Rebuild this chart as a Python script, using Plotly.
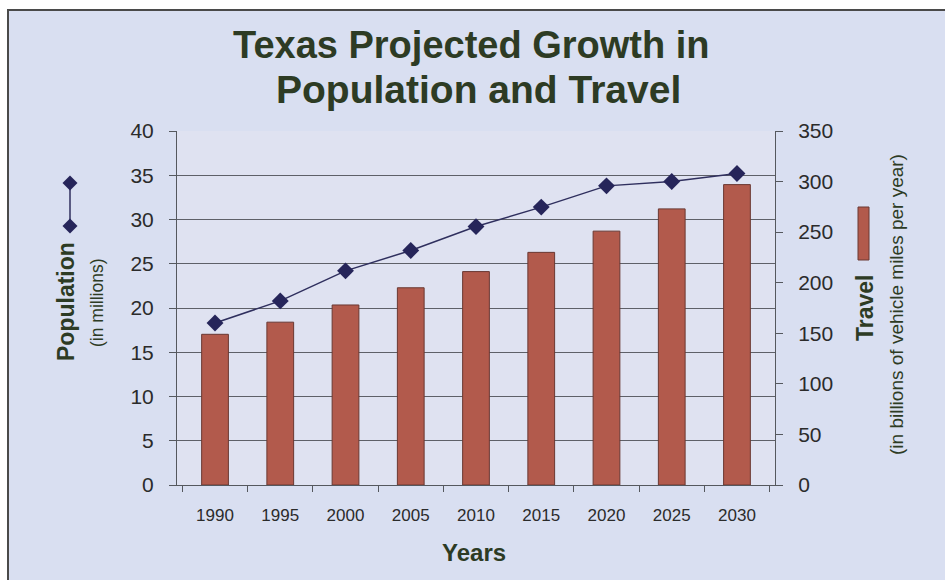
import plotly.graph_objects as go

years = ["1990", "1995", "2000", "2005", "2010", "2015", "2020", "2025", "2030"]
population = [18.3, 20.8, 24.2, 26.5, 29.2, 31.4, 33.8, 34.3, 35.2]   # millions (left axis)
travel = [149, 161, 178, 195, 211, 230, 251, 273, 297]               # billions VMT (right axis)
pop_ticks = [0, 5, 10, 15, 20, 25, 30, 35, 40]
travel_ticks = [0, 50, 100, 150, 200, 250, 300, 350]

W, H = 945, 580
L, R, T, B = 177, 170, 131, 95
PW, PH = W - L - R, H - T - B

def px(x):
    return (x - L) / PW

def py(y):
    return (H - B - y) / PH

BG = "#d9dff1"
PLOT_BG = "#dfe2f1"
TITLE_C = "#2d3b24"
TEXT_C = "#2b2b2b"
AX_C = "#55585e"
GRID_C = "#5e6068"
BAR_C = "#b25a4c"
BAR_EDGE = "#6a3832"
LINE_C = "#2f2f5e"
MARK_C = "#26255a"
FONT = "Liberation Sans, Arial, sans-serif"

fig = go.Figure()
fig.add_trace(go.Bar(
    x=years, y=travel, yaxis="y", name="Travel",
    marker=dict(color=BAR_C, line=dict(color=BAR_EDGE, width=1)),
))
fig.add_trace(go.Scatter(
    x=years, y=population, yaxis="y2", name="Population", mode="lines+markers",
    line=dict(color=LINE_C, width=1.5),
    marker=dict(symbol="diamond", size=13, color=MARK_C),
))

fig.update_layout(
    width=W, height=H,
    margin=dict(l=L, r=R, t=T, b=B, pad=0),
    paper_bgcolor=BG, plot_bgcolor=PLOT_BG,
    showlegend=False,
    bargap=0.59,
    font=dict(family=FONT, color=TEXT_C),
    xaxis=dict(
        type="category", showline=True, linecolor=AX_C, linewidth=1,
        ticks="outside", tickson="boundaries", ticklen=6, tickcolor=AX_C,
        tickfont=dict(size=17, color=TEXT_C), showgrid=False,
        ticklabelstandoff=15,
    ),
    yaxis=dict(
        side="right", range=[0, 350], tickvals=travel_ticks,
        showline=True, linecolor=AX_C, linewidth=1,
        ticks="outside", ticklen=7, tickcolor=AX_C,
        tickfont=dict(size=21, color=TEXT_C), showgrid=False, zeroline=False,
        ticklabelstandoff=11,
    ),
    yaxis2=dict(
        overlaying="y", side="left", range=[0, 40], tickvals=pop_ticks,
        showline=True, linecolor=AX_C, linewidth=1,
        ticks="outside", ticklen=7, tickcolor=AX_C,
        tickfont=dict(size=21, color=TEXT_C),
        showgrid=True, gridcolor=GRID_C, gridwidth=1, zeroline=False,
        ticklabelstandoff=11,
    ),
)

shapes = []
# white outer margin and frame
shapes.append(dict(type="rect", xref="paper", yref="paper", x0=px(-5), x1=px(8), y0=py(600), y1=py(-5),
                   fillcolor="white", line=dict(width=0), layer="below"))
shapes.append(dict(type="rect", xref="paper", yref="paper", x0=px(-5), x1=px(960), y0=py(10), y1=py(-5),
                   fillcolor="white", line=dict(width=0), layer="below"))
shapes.append(dict(type="rect", xref="paper", yref="paper", x0=px(8), x1=px(960), y0=py(600), y1=py(10),
                   fillcolor="rgba(0,0,0,0)", line=dict(color="#4a4a4a", width=2), layer="below"))
# legend key: population line with diamonds
shapes.append(dict(type="line", xref="paper", yref="paper", x0=px(70), x1=px(70), y0=py(183), y1=py(226),
                   line=dict(color=LINE_C, width=1.5)))
for cy in (183, 226):
    d = 7.5
    shapes.append(dict(type="path", xref="paper", yref="paper",
                       path=f"M {px(70)} {py(cy - d)} L {px(70 + d)} {py(cy)} L {px(70)} {py(cy + d)} L {px(70 - d)} {py(cy)} Z",
                       fillcolor=MARK_C, line=dict(width=0)))
# legend key: travel bar
shapes.append(dict(type="rect", xref="paper", yref="paper", x0=px(858), x1=px(869), y0=py(260), y1=py(207),
                   fillcolor=BAR_C, line=dict(color=BAR_EDGE, width=1)))
fig.update_layout(shapes=shapes)

ann = [
    dict(text="<b>Texas Projected Growth in</b>", x=px(471), y=py(45), size=38, color=TITLE_C, angle=0),
    dict(text="<b>Population and Travel</b>", x=px(478), y=py(89), size=39, color=TITLE_C, angle=0),
    dict(text="<b>Years</b>", x=px(474), y=py(552), size=24, color=TITLE_C, angle=0),
    dict(text="<b>Population</b>", x=px(66), y=py(302), size=23, color=TITLE_C, angle=-90),
    dict(text="(in millions)", x=px(97), y=py(303), size=17.5, color=TITLE_C, angle=-90),
    dict(text="<b>Travel</b>", x=px(865), y=py(307), size=23, color=TITLE_C, angle=-90),
    dict(text="(in billions of vehicle miles per year)", x=px(896), y=py(305), size=19, color=TITLE_C, angle=-90),
]
fig.update_layout(annotations=[
    dict(text=a["text"], x=a["x"], y=a["y"], xref="paper", yref="paper", showarrow=False,
         xanchor="center", yanchor="middle", textangle=a["angle"],
         font=dict(family=FONT, size=a["size"], color=a["color"]))
    for a in ann
])

fig.write_html("out.html", config={"displayModeBar": False},
               post_script="document.body.style.margin='0px';")
